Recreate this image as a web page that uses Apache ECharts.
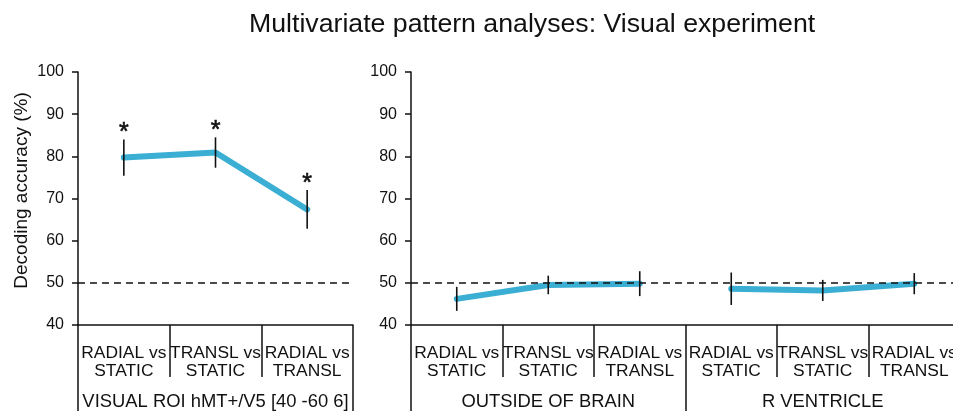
<!DOCTYPE html>
<html>
<head>
<meta charset="utf-8">
<script src="https://cdn.jsdelivr.net/npm/echarts@6/dist/echarts.min.js"></script>
<style>html,body{margin:0;padding:0;background:#fff;overflow:hidden;width:953px;height:411px;}#c{width:962px;height:411px;}</style>
</head>
<body>
<div id="c"></div>
<script>
// ---- data ----
const titleText = 'Multivariate pattern analyses: Visual experiment';
const yAxisName = 'Decoding accuracy (%)';
const contrastLabels = ['RADIAL vs\nSTATIC', 'TRANSL vs\nSTATIC', 'RADIAL vs\nTRANSL'];
const leftGroups = ['VISUAL ROI hMT+/V5 [40 -60 6]'];
const rightGroups = ['OUTSIDE OF BRAIN', 'R VENTRICLE'];
const leftValues = [79.7, 80.9, 67.4];
const leftErrors = [4.3, 3.6, 4.6];
const leftSignificant = [true, true, true];
const outsideValues = [46.2, 49.5, 49.8];
const outsideErrors = [2.85, 2.2, 2.95];
const ventricleValues = [48.6, 48.2, 49.8];
const ventricleErrors = [3.85, 2.5, 2.5];
const chanceLevel = 50;
const yMin = 40, yMax = 100, yStep = 10;

// ---- build ----
const FONT = "'Liberation Sans', Arial, sans-serif";
const LINE_COLOR = '#3AAED3';
const rightCategories = contrastLabels.concat(contrastLabels);
const blank = v => v.map(() => '-');
const outsideSeries = outsideValues.concat(blank(ventricleValues));
const ventricleSeries = blank(outsideValues).concat(ventricleValues);
const leftErrData = leftValues.map((v, i) => [i, v, leftErrors[i], leftSignificant[i] ? 1 : 0]);
const rightErrData = outsideValues.map((v, i) => [i, v, outsideErrors[i], 0])
  .concat(ventricleValues.map((v, i) => [i + outsideValues.length, v, ventricleErrors[i], 0]));

function errRender(params, api) {
  const x = api.value(0), v = api.value(1), e = api.value(2), sig = api.value(3);
  const top = api.coord([x, v + e]);
  const bot = api.coord([x, v - e]);
  const children = [{
    type: 'line',
    shape: { x1: top[0], y1: top[1], x2: bot[0], y2: bot[1] },
    style: { stroke: '#111', lineWidth: 1.6 }
  }];
  if (sig) {
    children.push({
      type: 'text',
      style: { x: top[0], y: top[1] - 6, text: '*', fontSize: 25, fontFamily: FONT,
        fill: '#111', align: 'center', verticalAlign: 'middle', stroke: '#111', lineWidth: 0.6 }
    });
  }
  return { type: 'group', children };
}

function yAxisCfg(gridIndex, withName) {
  return {
    type: 'value', gridIndex, min: yMin, max: yMax, interval: yStep,
    name: withName ? yAxisName : '', nameLocation: 'middle', nameGap: 47, nameRotate: 90,
    nameTextStyle: { fontSize: 19, fontFamily: FONT, color: '#111', padding: [0, 0, 0, 16] },
    axisLine: { show: true, lineStyle: { color: '#111', width: 1.5 } },
    axisTick: { show: true, length: 6, lineStyle: { color: '#111', width: 1.5 } },
    axisLabel: { fontSize: 16, fontFamily: FONT, color: '#111', margin: 14 },
    splitLine: { show: false }
  };
}
function catAxisCfg(gridIndex, data) {
  return {
    type: 'category', gridIndex, data, position: 'bottom', boundaryGap: true,
    axisLine: { show: true, onZero: false, lineStyle: { color: '#111', width: 1.5 } },
    axisTick: { show: true, length: 52, inside: false, lineStyle: { color: '#111', width: 1.5 } },
    axisLabel: { fontSize: 17.4, fontFamily: FONT, color: '#111', margin: 19, lineHeight: 18, interval: 0 }
  };
}
function groupAxisCfg(gridIndex, data) {
  return {
    type: 'category', gridIndex, data, position: 'bottom', boundaryGap: true,
    axisLine: { show: false, onZero: false },
    axisTick: { show: true, length: 95, lineStyle: { color: '#111', width: 1.5 } },
    axisLabel: { fontSize: 18.4, fontFamily: FONT, color: '#111', margin: 68, interval: 0 }
  };
}
const markLineCfg = {
  silent: true, symbol: 'none', label: { show: false },
  lineStyle: { color: '#111', type: [7, 5], width: 1.5 },
  data: [{ yAxis: chanceLevel }]
};
const lineStyle = { color: LINE_COLOR, width: 6, cap: 'round', join: 'round' };

const option = {
  animation: false,
  backgroundColor: '#fff',
  textStyle: { fontFamily: FONT },
  title: { text: titleText, left: 244, top: 6,
    textStyle: { fontSize: 26.7, fontWeight: 'normal', fontFamily: FONT, color: '#111' } },
  grid: [
    { left: 78, top: 72, width: 275, height: 255 },
    { left: 411, top: 72, width: 549, height: 255 }
  ],
  xAxis: [
    catAxisCfg(0, contrastLabels),
    groupAxisCfg(0, leftGroups),
    catAxisCfg(1, rightCategories),
    groupAxisCfg(1, rightGroups)
  ],
  yAxis: [yAxisCfg(0, true), yAxisCfg(1, false)],
  series: [
    { type: 'line', xAxisIndex: 0, yAxisIndex: 0, data: leftValues, symbol: 'none',
      lineStyle, itemStyle: { color: LINE_COLOR }, markLine: markLineCfg, z: 2 },
    { type: 'custom', xAxisIndex: 0, yAxisIndex: 0, data: leftErrData, renderItem: errRender,
      encode: { x: 0, y: 1 }, z: 5 },
    { type: 'line', xAxisIndex: 2, yAxisIndex: 1, data: outsideSeries, symbol: 'none',
      lineStyle, itemStyle: { color: LINE_COLOR }, markLine: markLineCfg, z: 2 },
    { type: 'line', xAxisIndex: 2, yAxisIndex: 1, data: ventricleSeries, symbol: 'none',
      lineStyle, itemStyle: { color: LINE_COLOR }, z: 2 },
    { type: 'custom', xAxisIndex: 2, yAxisIndex: 1, data: rightErrData, renderItem: errRender,
      encode: { x: 0, y: 1 }, z: 5 }
  ]
};
const chart = echarts.init(document.getElementById('c'), null, { renderer: 'canvas' });
chart.setOption(option);
</script>
</body>
</html>
